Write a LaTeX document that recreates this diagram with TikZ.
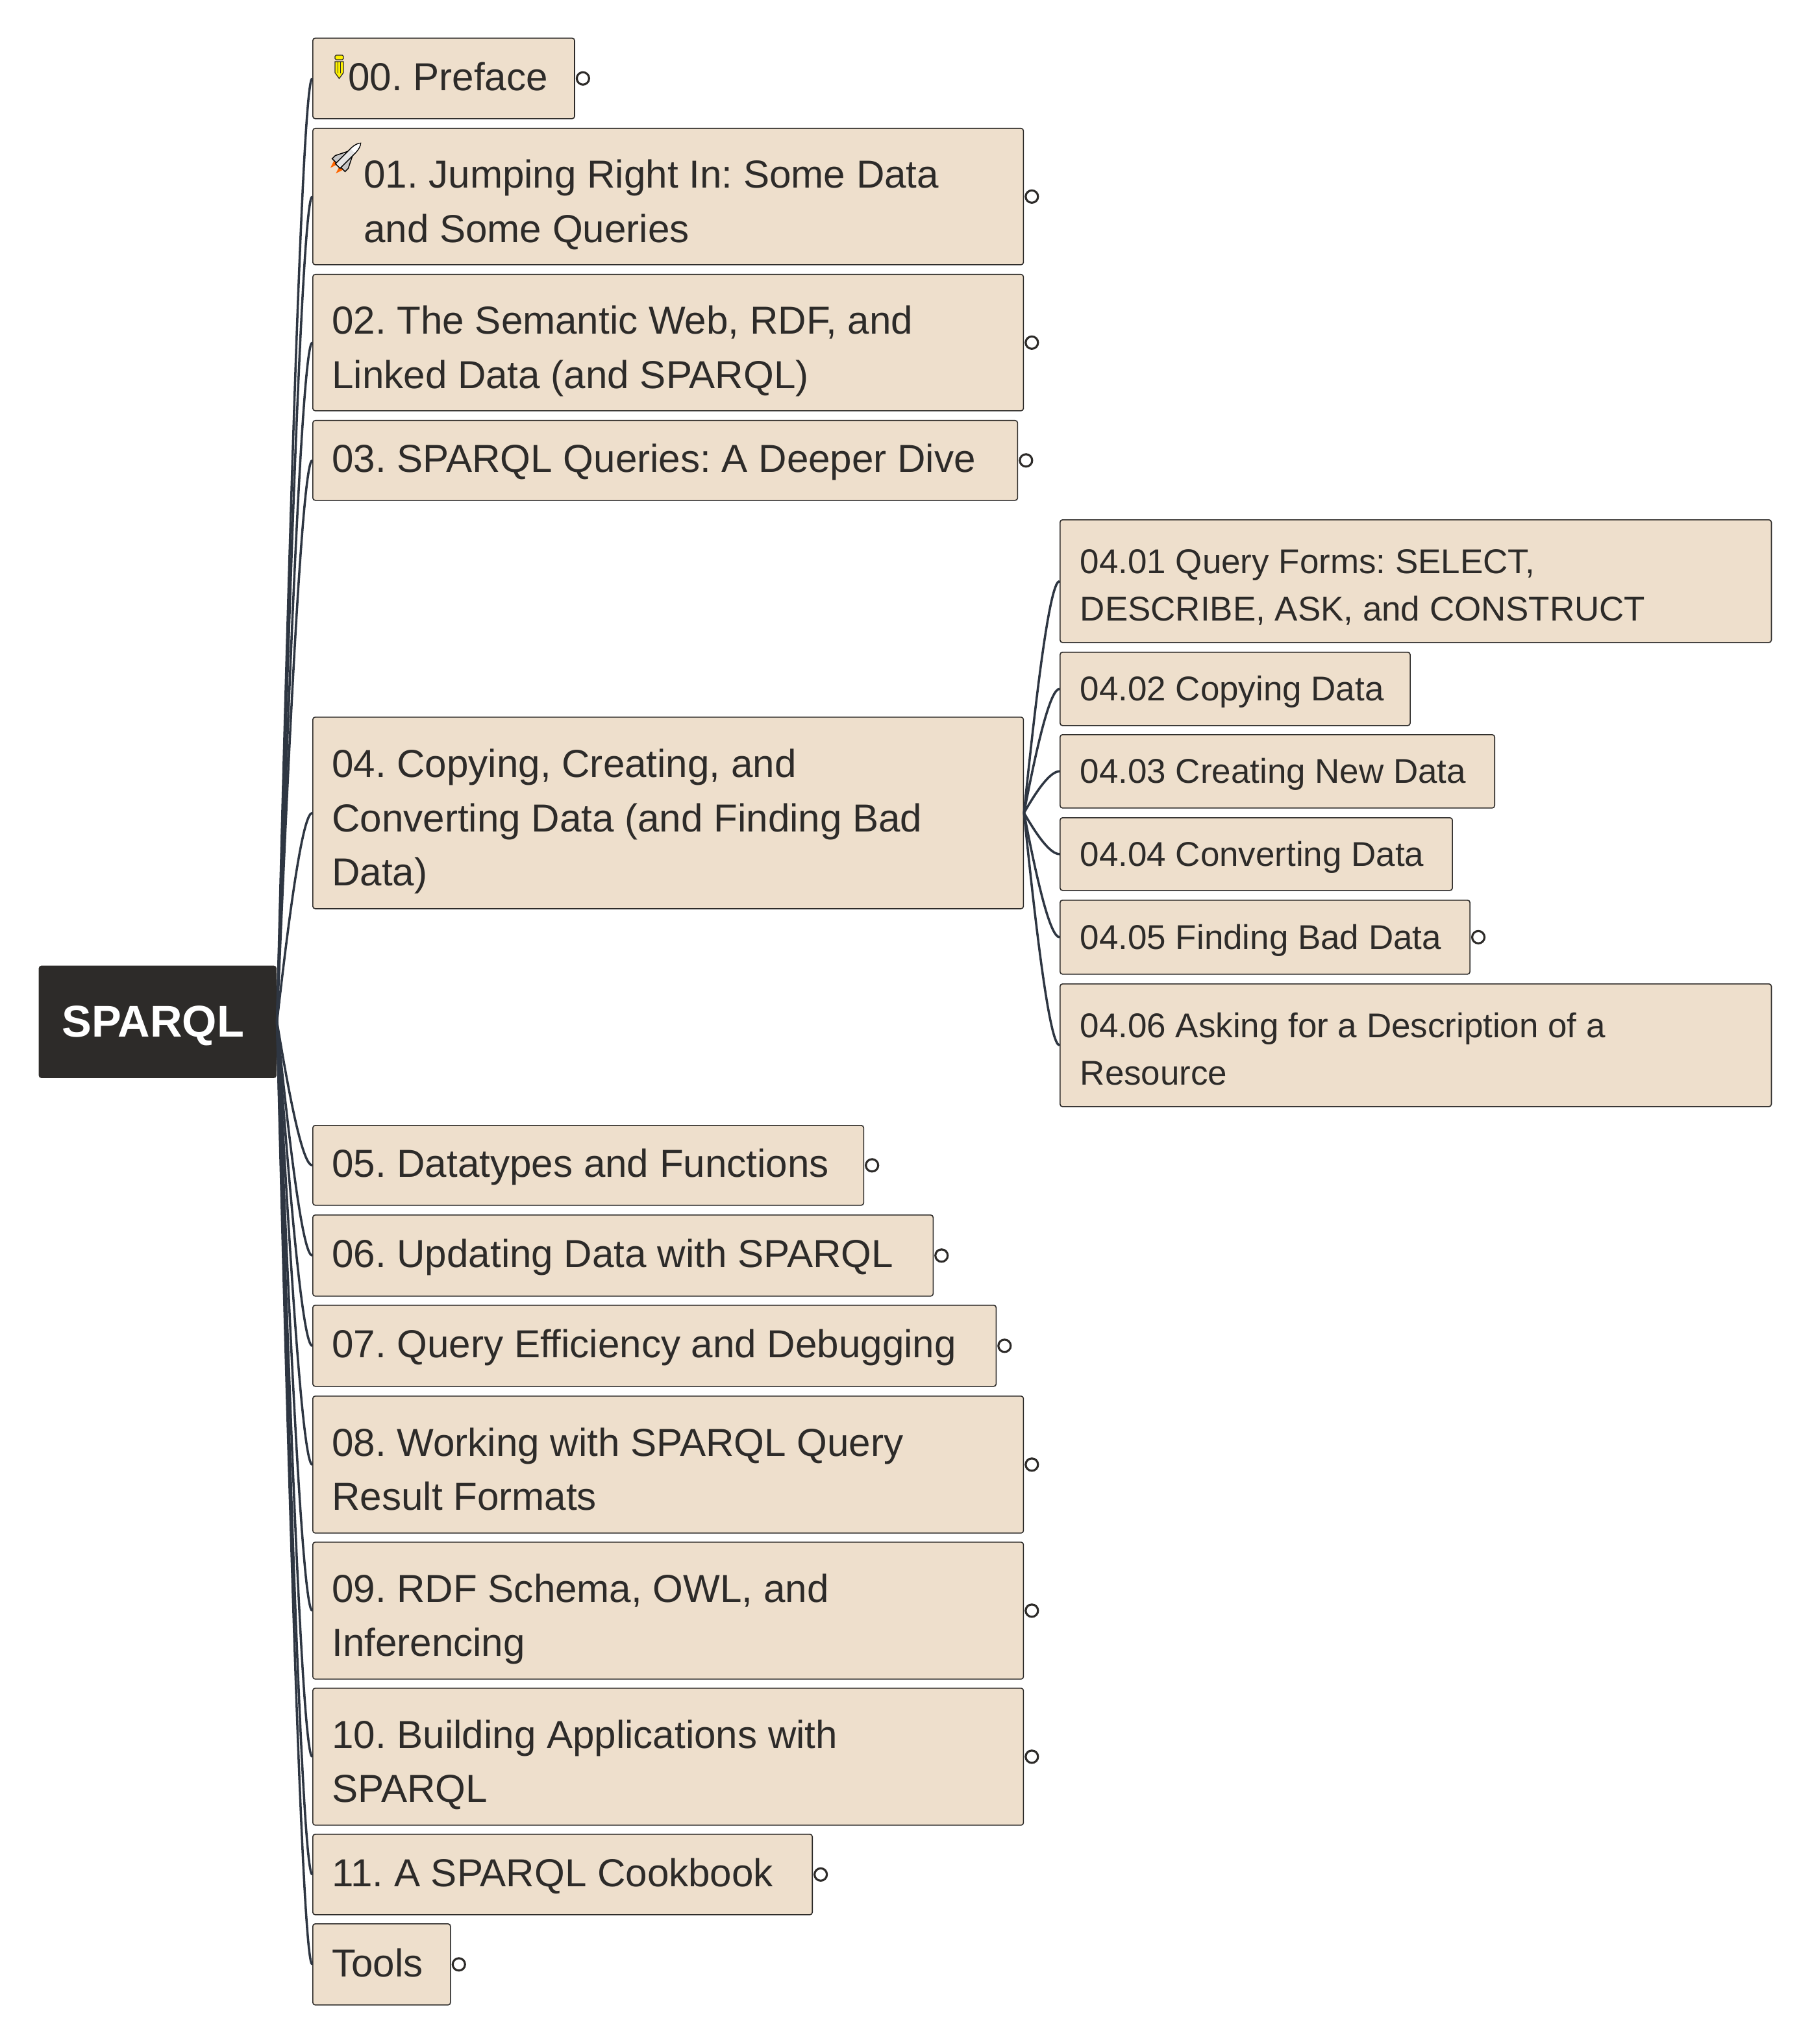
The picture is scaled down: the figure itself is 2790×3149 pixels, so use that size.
\documentclass[tikz,border=0pt]{standalone}
\usepackage{fontspec}
\setmainfont{Liberation Sans}
\usetikzlibrary{positioning,calc}
\frenchspacing
\definecolor{topicfill}{HTML}{EEDFCC}
\definecolor{inkdark}{HTML}{2D2B29}
\definecolor{linkblue}{HTML}{2E3642}
\tikzset{
  sz/.style 2 args={text width=#1cm-0.59cm,minimum height=#2cm},
  lift/.style={execute at begin node={\rule{0pt}{#1}}},
  topic/.style={draw=inkdark,line width=0.45pt,fill=topicfill,rounded corners=1.1pt,anchor=north west,
    align=flush left,inner xsep=0.295cm,inner ysep=0pt,text=inkdark,font=\fontsize{17.1}{23.7}\selectfont,
    lift=17.7pt,execute at end node={\rule[-7.1pt]{0pt}{0pt}}},
  topicmulti/.style={topic,lift=23.4pt},
  subtopic/.style={topic,inner xsep=0.31cm,font=\fontsize{15.05}{20.9}\selectfont,
    lift=16pt,execute at end node={\rule[-6.3pt]{0pt}{0pt}}},
  subtopicmulti/.style={subtopic,lift=21.1pt},
  rootnode/.style={fill=inkdark,rounded corners=1.1pt,anchor=north west,text=white,align=center,
    inner sep=0pt,font=\fontsize{19.5}{24}\selectfont\bfseries},
  knob/.style={circle,draw=inkdark,line width=0.9pt,fill=white,inner sep=0pt,minimum size=0.19cm},
  link/.style={linkblue,line width=1pt,to path={let \p1=(\tikztostart),\p2=(\tikztotarget) in
    .. controls ({\x1+0.4*(\x2-\x1)},{\y1+0.6*(\y2-\y1)}) and ({\x1+0.75*(\x2-\x1)},{\y2}) .. (\tikztotarget)}}
}
\begin{document}
\begin{tikzpicture}[x=0.01cm,y=-0.01cm]
\useasboundingbox (0,0) rectangle (2790,3149);

\node[rootnode,minimum width=3.66cm,minimum height=1.73cm] (sparql) at (59,1487) {\rule{0pt}{17pt}\hspace*{-0.14cm}SPARQL};

\node[topic,sz={4.03}{1.24}] (n00) at (481,58) {\hspace*{0.25cm}00. Preface};
\node[topicmulti,sz={10.94}{2.10}] (n01) at (481,197) {\hspace*{0.49cm}01. Jumping Right In: Some Data\\\hspace*{0.49cm}and Some Queries};
\node[topicmulti,sz={10.94}{2.10}] (n02) at (481,422) {02. The Semantic Web, RDF, and\\Linked Data (and SPARQL)};
\node[topic,sz={10.85}{1.23}] (n03) at (481,647) {03. SPARQL Queries: A Deeper Dive};
\node[topicmulti,sz={10.94}{2.95}] (n04) at (481,1104) {04. Copying, Creating, and\\Converting Data (and Finding Bad\\Data)};
\node[topic,sz={8.48}{1.23}] (n05) at (481,1733) {05. Datatypes and Functions};
\node[topic,sz={9.55}{1.25}] (n06) at (481,1871) {06. Updating Data with SPARQL};
\node[topic,sz={10.52}{1.25}] (n07) at (481,2010) {07. Query Efficiency and Debugging};
\node[topicmulti,sz={10.94}{2.11}] (n08) at (481,2150) {08. Working with SPARQL Query\\Result Formats};
\node[topicmulti,sz={10.94}{2.11}] (n09) at (481,2375) {09. RDF Schema, OWL, and\\Inferencing};
\node[topicmulti,sz={10.94}{2.11}] (n10) at (481,2600) {10. Building Applications with\\SPARQL};
\node[topic,sz={7.69}{1.24}] (n11) at (481,2825) {11. A SPARQL Cookbook};
\node[topic,sz={2.12}{1.25}] (tools) at (481,2963) {Tools};

\node[subtopicmulti,sz={10.92}{1.89}] (n0401) at (1632,800) {04.01 Query Forms: SELECT,\\DESCRIBE, ASK, and CONSTRUCT};
\node[subtopic,sz={5.36}{1.13}] (n0402) at (1632,1004) {04.02 Copying Data};
\node[subtopic,sz={6.66}{1.13}] (n0403) at (1632,1131) {04.03 Creating New Data};
\node[subtopic,sz={6.01}{1.12}] (n0404) at (1632,1259) {04.04 Converting Data};
\node[subtopic,sz={6.28}{1.14}] (n0405) at (1632,1386) {04.05 Finding Bad Data};
\node[subtopicmulti,sz={10.92}{1.89}] (n0406) at (1632,1515) {04.06 Asking for a Description of a\\Resource};

\draw[link] (sparql.east) to (n00.west);
\draw[link] (sparql.east) to (n01.west);
\draw[link] (sparql.east) to (n02.west);
\draw[link] (sparql.east) to (n03.west);
\draw[link] (sparql.east) to (n04.west);
\draw[link] (sparql.east) to (n05.west);
\draw[link] (sparql.east) to (n06.west);
\draw[link] (sparql.east) to (n07.west);
\draw[link] (sparql.east) to (n08.west);
\draw[link] (sparql.east) to (n09.west);
\draw[link] (sparql.east) to (n10.west);
\draw[link] (sparql.east) to (n11.west);
\draw[link] (sparql.east) to (tools.west);

\draw[link] (n04.east) to (n0401.west);
\draw[link] (n04.east) to (n0402.west);
\draw[link] (n04.east) to (n0403.west);
\draw[link] (n04.east) to (n0404.west);
\draw[link] (n04.east) to (n0405.west);
\draw[link] (n04.east) to (n0406.west);

\node[knob,right=0.01cm of n00] (k00) {};
\node[knob,right=0.01cm of n01] (k01) {};
\node[knob,right=0.01cm of n02] (k02) {};
\node[knob,right=0.01cm of n03] (k03) {};
\node[knob,right=0.01cm of n05] (k05) {};
\node[knob,right=0.01cm of n06] (k06) {};
\node[knob,right=0.01cm of n07] (k07) {};
\node[knob,right=0.01cm of n08] (k08) {};
\node[knob,right=0.01cm of n09] (k09) {};
\node[knob,right=0.01cm of n10] (k10) {};
\node[knob,right=0.01cm of n11] (k11) {};
\node[knob,right=0.01cm of tools] (ktools) {};
\node[knob,right=0.01cm of n0405] (k0405) {};

% pencil
\fill[yellow,draw=inkdark,line width=0.35pt,rounded corners=0.5pt] (516,92) -- (516,85) -- (529,85) -- (529,92) -- cycle;
\fill[yellow,draw=inkdark,line width=0.35pt] (516,95) -- (529,95) -- (529,112) -- (522.5,121) -- (516,112) -- cycle;
\draw[inkdark,line width=0.25pt] (520.5,95) -- (520.5,113) (524.5,95) -- (524.5,113);

% shuttle
\begin{scope}[shift={(535,241)},rotate=45]
\fill[orange!80!red] (-19,-10) -- (-31,-6) -- (-19,-2) -- cycle;
\fill[orange!80!red] (-19,10) -- (-31,6) -- (-19,2) -- cycle;
\fill[gray!45,draw=black,line width=0.4pt] (-19,-14) -- (-19,14) -- (-12,14) -- (6,5) -- (6,-5) -- (-12,-14) -- cycle;
\fill[gray!20,draw=black,line width=0.4pt] (-21,-5) -- (12,-5) .. controls (20,-5) and (26,-3) .. (29,0) .. controls (26,3) and (20,5) .. (12,5) -- (-21,5) -- cycle;
\fill[white] (12,-4) .. controls (20,-4) and (25,-2) .. (28,0) .. controls (25,2) and (20,4) .. (12,4) -- cycle;
\end{scope}
\end{tikzpicture}
\end{document}
